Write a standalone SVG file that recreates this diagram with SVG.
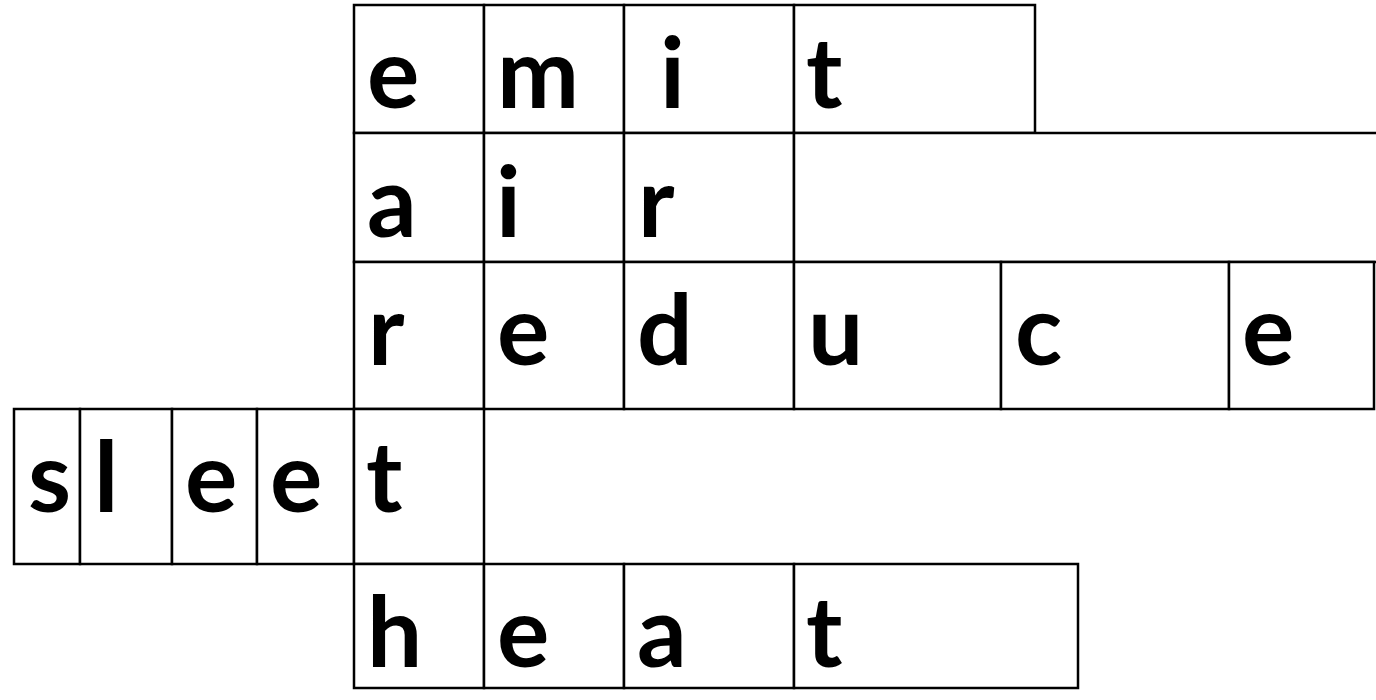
<svg xmlns="http://www.w3.org/2000/svg" width="1376" height="700" viewBox="0 0 1376 700">
<style>
rect{fill:#fff;stroke:#000;stroke-width:2.5}
text{font-family:Lato,"Open Sans","Liberation Sans",sans-serif;font-weight:700;font-size:98px;fill:#000}
</style>
<rect x="0" y="0" width="1376" height="700" style="fill:#fff;stroke:none"/>
<g id="emit">
<rect x="354" y="5" width="130" height="128"/><rect x="484" y="5" width="140" height="128"/><rect x="624" y="5" width="170" height="128"/><rect x="794" y="5" width="241" height="128"/>
<text x="367" y="108">e</text><text x="497" y="108">m</text><text x="660" y="108">i</text><text x="806" y="108">t</text>
</g>
<g id="air">
<rect x="354" y="133" width="130" height="129"/><rect x="484" y="133" width="140" height="129"/><rect x="624" y="133" width="170" height="129"/><rect x="794" y="133" width="584" height="129"/>
<text x="367" y="237">a</text><text x="496" y="237">i</text><text x="638" y="237">r</text>
</g>
<g id="reduce">
<rect x="354" y="262" width="130" height="147"/><rect x="484" y="262" width="140" height="147"/><rect x="624" y="262" width="170" height="147"/><rect x="794" y="262" width="207" height="147"/><rect x="1001" y="262" width="228" height="147"/><rect x="1229" y="262" width="145" height="147"/>
<text x="368" y="365">r</text><text x="497" y="365">e</text><text x="637" y="365">d</text><text x="808" y="365">u</text><text x="1015" y="365">c</text><text x="1242" y="365">e</text>
</g>
<g id="sleet">
<rect x="14" y="409" width="66" height="155"/><rect x="80" y="409" width="92" height="155"/><rect x="172" y="409" width="85" height="155"/><rect x="257" y="409" width="97" height="155"/><rect x="354" y="409" width="130" height="155"/>
<text x="28" y="512">s</text><text x="94" y="512">l</text><text x="185" y="512">e</text><text x="270" y="512">e</text><text x="366" y="512">t</text>
</g>
<g id="heat">
<rect x="354" y="564" width="130" height="124"/><rect x="484" y="564" width="140" height="124"/><rect x="624" y="564" width="170" height="124"/><rect x="794" y="564" width="284" height="124"/>
<text x="367" y="667">h</text><text x="497" y="667">e</text><text x="637" y="667">a</text><text x="806" y="667">t</text>
</g>
<g id="connectors"></g>
</svg>
